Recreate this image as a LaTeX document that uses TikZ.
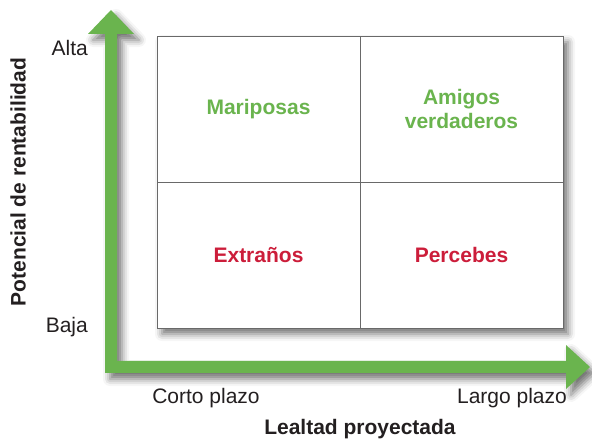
\documentclass[tikz,border=0pt]{standalone}
\usepackage{fontspec}
\setmainfont{Liberation Sans}
\usetikzlibrary{shadows.blur}

\definecolor{axisgreen}{RGB}{106,180,78}
\definecolor{quadred}{RGB}{204,29,58}
\definecolor{textgray}{RGB}{35,31,32}
\definecolor{linegray}{RGB}{105,105,105}

\tikzset{
  quad/.style={draw=linegray, line width=0.8pt, minimum width=203pt, minimum height=146pt,
    inner sep=0pt, align=center, font=\fontsize{21}{24}\selectfont\bfseries},
  axislabel/.style={text=textgray, inner sep=0pt, font=\fontsize{21}{24}\selectfont},
  axistitle/.style={text=textgray, inner sep=0pt, font=\fontsize{21}{24}\selectfont\bfseries},
  softshadow/.style={blur shadow={shadow xshift=5pt, shadow yshift=-6pt,
    shadow blur radius=7pt, shadow opacity=55}},
}

\begin{document}
\begin{tikzpicture}[x=1pt,y=-1pt]
        \useasboundingbox (0,0) rectangle (592,443);

        % Shadow behind the matrix
        \fill[white, softshadow] (157,36) rectangle (563,328);

        % Draw the green axes (one shape, two heads)
        \fill[axisgreen, softshadow]
            (111,10) -- (134,34) -- (117,34) -- (117,361) -- (566,361) -- (566,345)
            -- (590,367) -- (566,389) -- (566,373) -- (105,373) -- (105,34) -- (88,34) -- cycle;

        % Draw the four quadrants
        \foreach \x/\y/\nm/\col/\txt in {258.5/109/mari/axisgreen/Mariposas,
                                         461.5/109/amig/axisgreen/{Amigos\\verdaderos},
                                         258.5/255/extr/quadred/Extraños,
                                         461.5/255/perc/quadred/Percebes} {
            \node[quad, text=\col] (\nm) at (\x,\y) {\txt};
        }

        % Add row labels
        \node[axislabel, anchor=east] (alta) at (88,48) {Alta};
        \node[axislabel, anchor=east] (baja) at (88,327) {Baja};
        \node[axistitle, rotate=90] (potencial) at (18,182) {Potencial de rentabilidad};

        % Add column labels
        \node[axislabel] (corto) at (206,398) {Corto plazo};
        \node[axislabel] (largo) at (512,398) {Largo plazo};
        \node[axistitle] (lealtad) at (360,429) {Lealtad proyectada};
    \end{tikzpicture}
\end{document}
